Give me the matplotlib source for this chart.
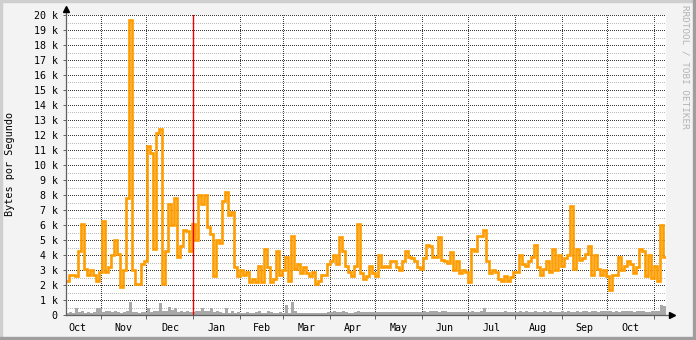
import numpy as np
import pandas as pd
import matplotlib
matplotlib.use("Agg")
import matplotlib.pyplot as plt
from matplotlib.patches import Rectangle
from matplotlib.lines import Line2D

# two-day averages, thousands of bytes per second
START = "2005-10-08 22:00"
END = "2006-11-08 23:00"

incoming = [
    2.3, 2.7, 2.65, 2.6, 4.3, 6.1, 3.1, 2.7, 3.0, 2.7,
    2.3, 2.9, 6.3, 2.9, 3.2, 4.0, 5.0, 4.1, 1.9, 3.0,
    7.8, 19.7, 3.0, 2.1, 2.1, 3.4, 3.6, 11.3, 10.8, 4.4,
    12.1, 12.4, 2.1, 4.3, 7.4, 6.0, 7.8, 3.9, 4.6, 5.7,
    5.6, 4.3, 6.1, 5.0, 8.0, 7.4, 8.0, 5.9, 5.4, 2.6,
    5.0, 4.8, 7.6, 8.2, 6.7, 6.9, 3.2, 2.6, 3.0, 2.7,
    2.9, 2.2, 2.4, 2.2, 3.3, 2.2, 4.4, 3.2, 2.2, 2.4,
    4.3, 2.7, 3.0, 3.9, 2.3, 5.3, 3.1, 3.4, 2.8, 3.2,
    2.8, 2.6, 2.9, 2.1, 2.3, 2.7, 2.7, 3.4, 3.6, 4.0,
    3.4, 5.2, 4.3, 3.3, 2.9, 2.6, 3.3, 6.1, 2.8, 2.4,
    2.6, 3.3, 2.8, 2.6, 4.0, 3.2, 3.3, 3.2, 3.6, 3.6,
    3.2, 3.0, 3.6, 4.3, 3.9, 3.8, 3.6, 3.2, 3.1, 3.8,
    4.7, 4.6, 3.9, 3.9, 5.2, 3.7, 3.6, 3.5, 4.2, 3.0,
    3.6, 2.8, 3.0, 2.9, 2.2, 4.4, 4.3, 5.3, 5.3, 5.7,
    3.6, 2.8, 3.0, 2.9, 2.4, 2.3, 2.6, 2.3, 2.55, 2.9,
    2.9, 4.0, 3.4, 3.3, 3.6, 3.9, 4.7, 3.2, 2.7, 3.1,
    3.6, 2.9, 4.4, 3.0, 4.0, 3.3, 3.8, 4.0, 7.3, 3.1,
    4.4, 3.7, 3.8, 4.1, 4.6, 2.7, 4.0, 3.1, 2.7, 3.0,
    2.6, 1.7, 2.7, 2.7, 3.9, 3.0, 3.3, 3.6, 3.4, 2.8,
    3.2, 4.4, 4.3, 2.6, 4.0, 2.5, 3.3, 2.3, 6.0, 3.9,
]

outgoing = [
    0.15, 0.2, 0.15, 0.45, 0.2, 0.25, 0.15, 0.2, 0.15, 0.2,
    0.45, 0.45, 0.2, 0.3, 0.25, 0.2, 0.3, 0.2, 0.15, 0.2,
    0.3, 0.9, 0.2, 0.2, 0.15, 0.2, 0.2, 0.45, 0.2, 0.3,
    0.3, 0.8, 0.3, 0.25, 0.55, 0.35, 0.45, 0.2, 0.3, 0.2,
    0.3, 0.2, 0.2, 0.25, 0.3, 0.45, 0.3, 0.3, 0.45, 0.2,
    0.3, 0.2, 0.15, 0.45, 0.15, 0.25, 0.15, 0.2, 0.15, 0.15,
    0.2, 0.15, 0.15, 0.2, 0.3, 0.15, 0.15, 0.25, 0.2, 0.15,
    0.15, 0.2, 0.15, 0.7, 0.15, 0.9, 0.3, 0.15, 0.15, 0.15,
    0.15, 0.15, 0.15, 0.15, 0.15, 0.15, 0.15, 0.2, 0.2, 0.25,
    0.2, 0.2, 0.25, 0.2, 0.15, 0.15, 0.2, 0.25, 0.2, 0.2,
    0.2, 0.2, 0.2, 0.2, 0.2, 0.2, 0.2, 0.2, 0.2, 0.2,
    0.2, 0.2, 0.2, 0.2, 0.2, 0.2, 0.2, 0.2, 0.2, 0.25,
    0.2, 0.25, 0.25, 0.25, 0.2, 0.3, 0.25, 0.2, 0.2, 0.2,
    0.2, 0.2, 0.2, 0.2, 0.2, 0.25, 0.2, 0.2, 0.25, 0.45,
    0.2, 0.2, 0.2, 0.2, 0.2, 0.2, 0.25, 0.2, 0.2, 0.2,
    0.2, 0.25, 0.2, 0.3, 0.2, 0.2, 0.25, 0.2, 0.2, 0.3,
    0.2, 0.25, 0.2, 0.2, 0.2, 0.3, 0.2, 0.25, 0.2, 0.2,
    0.25, 0.2, 0.25, 0.3, 0.2, 0.25, 0.3, 0.2, 0.3, 0.25,
    0.3, 0.3, 0.2, 0.3, 0.2, 0.3, 0.3, 0.25, 0.3, 0.2,
    0.3, 0.25, 0.3, 0.2, 0.2, 0.25, 0.3, 0.3, 0.7, 0.6,
]

month_names = ["Oct", "Nov", "Dec", "Jan", "Feb", "Mar", "Apr",
               "May", "Jun", "Jul", "Aug", "Sep", "Oct"]
year_mark = "2006-01-01"

BG = "#F3F3F3"
ORANGE = "#FF9C00"
GREYFILL = "#A9A9A9"
MONO = "DejaVu Sans Mono"
DOTS = (0.5, (1, 1))   # 1px dot, 1px gap, aligned with snapped pixel centres

fig = plt.figure(figsize=(6.96, 3.40), dpi=100, facecolor=BG)
ax = fig.add_axes([66 / 696, 25 / 340, 600 / 696, 300 / 340])
ax.set_facecolor("white")

edges = pd.date_range(START, END, periods=len(incoming) + 1)
inc = np.array(incoming + [incoming[-1]]) * 1000
out = np.array(outgoing + [outgoing[-1]]) * 1000

ax.fill_between(edges, out, step="post", color=GREYFILL, lw=0, zorder=2)
ax.step(edges, inc, where="post", color=ORANGE, lw=1.9,
        solid_joinstyle="miter", zorder=3)
ax.axvline(pd.Timestamp(year_mark), color="#F00000", lw=1.0, snap=True, zorder=4)

ax.set_xlim(pd.Timestamp(START), pd.Timestamp(END))
ax.set_ylim(0, 20000)

# y axis grid and labels
ax.set_yticks(np.arange(0, 20001, 1000))
ax.set_yticks(np.arange(500, 20000, 1000), minor=True)
ax.set_yticklabels(["0"] + [f"{v} k" for v in range(1, 21)])
ax.grid(which="major", axis="y", color="#383838", ls=DOTS, lw=0.72, snap=True)
ax.grid(which="minor", axis="y", color="#BBBBBB", ls=DOTS, lw=0.72, snap=True)

# months: grid at month start, label at mid month
starts = pd.date_range("2005-10-01", "2006-11-01", freq="MS")
mids = starts[:-1] + (starts[1:] - starts[:-1]) / 2
ax.set_xticks(starts[1:])
ax.set_xticklabels([])
ax.set_xticks(mids, minor=True)
ax.set_xticklabels(month_names, minor=True)
ax.grid(which="major", axis="x", color="#383838", ls=DOTS, lw=0.72, snap=True)
ax.set_axisbelow(True)
# the red year rule replaces the January grid line
for t, loc in zip(ax.xaxis.get_major_ticks(), starts[1:]):
    if loc == pd.Timestamp(year_mark):
        t.gridline.set_visible(False)

ax.tick_params(axis="y", which="major", length=2, width=0.7, color="#606060",
               pad=4, labelsize=7.2, labelfontfamily=MONO, labelcolor="black")
ax.tick_params(axis="y", which="minor", length=0)
ax.tick_params(axis="x", which="major", length=3, width=0.7, color="#606060")
ax.tick_params(axis="x", which="minor", length=0, pad=6, labelsize=7.2,
               labelfontfamily=MONO, labelcolor="black")

for s in ax.spines.values():
    s.set_visible(False)

# axis lines with arrow heads
ax.add_line(Line2D([0, 0], [0, 1.02], transform=ax.transAxes, color="#606060",
                   lw=0.9, snap=True, clip_on=False, zorder=5))
ax.add_line(Line2D([0, 1.01], [0, 0], transform=ax.transAxes, color="#606060",
                   lw=0.9, snap=True, clip_on=False, zorder=5))
ax.plot([0], [1.02], marker="^", ms=5, color="black", transform=ax.transAxes,
        clip_on=False, zorder=6)
ax.plot([1.01], [0], marker=">", ms=5, color="black", transform=ax.transAxes,
        clip_on=False, zorder=6)

fig.text(10.5 / 696, 1 - 164 / 340, "Bytes por Segundo", rotation=90,
         ha="center", va="center", family=MONO, size=7.3, color="black")
fig.text(685 / 696, 1 - 67 / 340, "RRDTOOL / TOBI OETIKER", rotation=270,
         ha="center", va="center", family=MONO, size=6.7, color="#B4B4B4")

# shaded frame
fig.patches.extend([
    Rectangle((0, 1 - 2 / 340), 1, 2 / 340, transform=fig.transFigure, color="#CFCFCF"),
    Rectangle((0, 0), 2 / 696, 1, transform=fig.transFigure, color="#CFCFCF"),
    Rectangle((0, 0), 1, 3 / 340, transform=fig.transFigure, color="#9E9E9E"),
    Rectangle((1 - 3 / 696, 0), 3 / 696, 1, transform=fig.transFigure, color="#9E9E9E"),
])

fig.savefig("out.png", dpi=100, facecolor=BG)
